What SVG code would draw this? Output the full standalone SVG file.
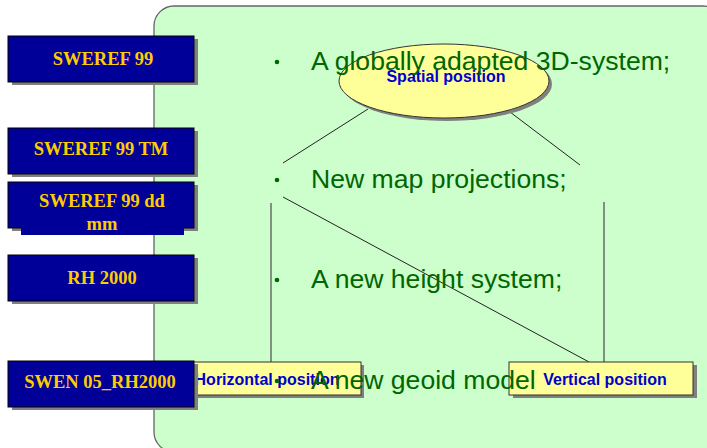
<svg xmlns="http://www.w3.org/2000/svg" width="707" height="448" viewBox="0 0 707 448">
<style>
.blue{fill:#000099;stroke:#000000;stroke-width:1}
.shadow{fill:#808080}
.gold{font-family:"Liberation Serif","Times New Roman",serif;font-weight:bold;font-size:18.5px;fill:#ffcc00;text-anchor:middle}
.bul{font-family:"Liberation Sans",Arial,sans-serif;font-size:26.6px;fill:#006600}
.lbl{font-family:"Liberation Sans",Arial,sans-serif;font-weight:bold;font-size:16px;fill:#0000cc}
.yel{fill:#ffff99;stroke:#333333;stroke-width:1}
.conn{stroke:#222222;stroke-width:1;fill:none}
.vconn{stroke:#555555;stroke-width:1.3;fill:none}
</style>
<rect width="707" height="448" fill="#ffffff"/>
<g id="panel">
<rect x="154" y="6" width="569" height="446" rx="20" ry="20" fill="#ccffcc" stroke="#666666" stroke-width="1.3"/>
</g>
<g id="connectors">
<line class="conn" x1="283" y1="163" x2="368" y2="109"/>
<line class="conn" x1="510" y1="112" x2="580" y2="165"/>
<line class="conn" x1="283" y1="197" x2="589" y2="362"/>
<line class="vconn" x1="271" y1="203" x2="271" y2="362"/>
<line class="vconn" x1="604" y1="202" x2="604" y2="362"/>
</g>
<g id="spatial">
<ellipse class="shadow" cx="447" cy="84" rx="105" ry="37"/>
<ellipse class="yel" cx="444" cy="81" rx="105" ry="37"/>
<text class="lbl" x="446" y="82" text-anchor="middle">Spatial position</text>
</g>
<g id="horizontal">
<rect class="shadow" x="177" y="365" width="187" height="33"/>
<rect class="yel" x="174" y="362" width="187" height="33"/>
<text class="lbl" x="267" y="385" text-anchor="middle">Horizontal position</text>
</g>
<g id="vertical">
<rect class="shadow" x="513" y="365" width="184" height="33"/>
<rect class="yel" x="509" y="362" width="184" height="33"/>
<text class="lbl" x="605" y="385" text-anchor="middle">Vertical position</text>
</g>
<g id="bullets">
<circle cx="277" cy="62" r="2.3" fill="#006600"/>
<text class="bul" x="311" y="70">A globally adapted 3D-system;</text>
<circle cx="277" cy="180" r="2.3" fill="#006600"/>
<text class="bul" x="311" y="188">New map projections;</text>
<circle cx="277" cy="280" r="2.3" fill="#006600"/>
<text class="bul" x="311" y="288">A new height system;</text>
<circle cx="277" cy="381" r="2.3" fill="#006600"/>
<text class="bul" x="311" y="389">A new geoid model</text>
</g>
<g id="sweref99">
<rect class="shadow" x="12" y="39" width="186" height="46"/>
<rect class="blue" x="8" y="36" width="186" height="46"/>
<text class="gold" x="103" y="65">SWEREF 99</text>
</g>
<g id="sweref99tm">
<rect class="shadow" x="12" y="131" width="186" height="46"/>
<rect class="blue" x="8" y="128" width="186" height="46"/>
<text class="gold" x="101" y="155">SWEREF 99 TM</text>
</g>
<g id="sweref99ddmm">
<rect class="shadow" x="12" y="185" width="186" height="46"/>
<rect class="blue" x="8" y="182" width="186" height="46"/>
<rect x="21" y="220" width="163" height="15" fill="#000099"/>
<text class="gold" x="102" y="207">SWEREF 99 dd</text>
<text class="gold" x="102" y="230">mm</text>
</g>
<g id="rh2000">
<rect class="shadow" x="12" y="258" width="186" height="46"/>
<rect class="blue" x="8" y="255" width="186" height="46"/>
<text class="gold" x="102" y="284">RH 2000</text>
</g>
<g id="swen05">
<rect class="shadow" x="12" y="364" width="186" height="46"/>
<rect class="blue" x="8" y="361" width="186" height="46"/>
<text class="gold" x="100" y="388">SWEN 05_RH2000</text>
</g>
</svg>
